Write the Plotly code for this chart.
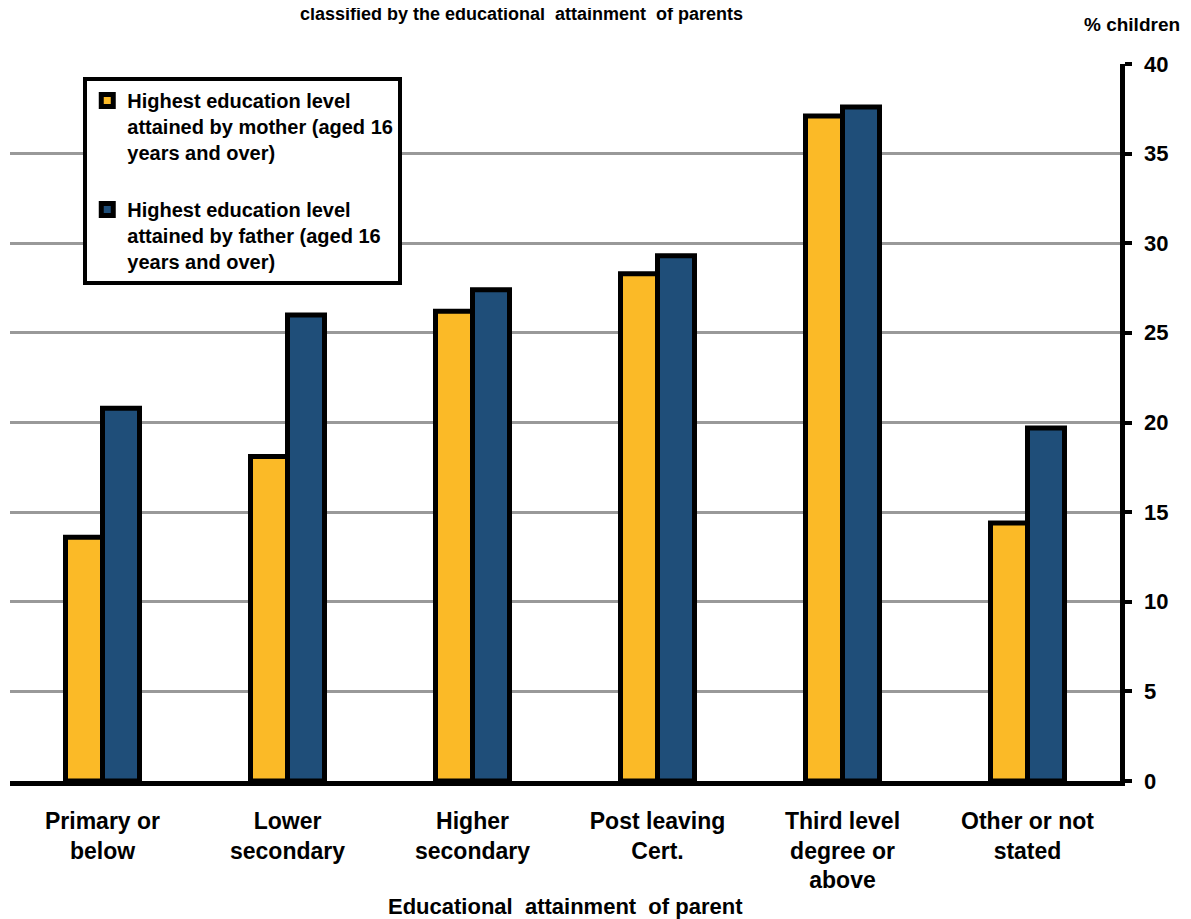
import plotly.graph_objects as go

categories = ["Primary or<br>below", "Lower<br>secondary", "Higher<br>secondary",
              "Post leaving<br>Cert.", "Third level<br>degree or<br>above", "Other or not<br>stated"]
mother = [13.6, 18.1, 26.2, 28.3, 37.1, 14.4]
father = [20.8, 26.0, 27.4, 29.3, 37.6, 19.7]
mother_name = "Highest education level<br>attained by mother (aged 16<br>years and over)"
father_name = "Highest education level<br>attained by father (aged 16<br>years and over)"
yticks = [0, 5, 10, 15, 20, 25, 30, 35, 40]

FONT = "Liberation Sans, Arial, sans-serif"

fig = go.Figure()
fig.add_trace(go.Bar(x=categories, y=mother, name=mother_name, legendgroup="m",
                     marker=dict(color="#FBBA27", line=dict(color="#000000", width=5))))
fig.add_trace(go.Bar(x=categories, y=father, name=father_name, legendgroup="f",
                     marker=dict(color="#1F4E79", line=dict(color="#000000", width=5))))

annotations = [
    dict(text="classified by the educational  attainment  of parents", xref="paper", yref="paper",
         x=(521 - 10) / 1110, y=(781 - 14) / 717, xanchor="center", yanchor="middle",
         showarrow=False, font=dict(size=18, family=FONT, weight="bold")),
    dict(text="% children", xref="paper", yref="paper",
         x=(1132 - 10) / 1110, y=(781 - 25) / 717, xanchor="center", yanchor="middle",
         showarrow=False, font=dict(size=19, family=FONT, weight="bold")),
    dict(text="Educational  attainment  of parent", xref="paper", yref="paper",
         x=0.5, y=(781 - 907) / 717, xanchor="center", yanchor="middle",
         showarrow=False, font=dict(size=22, family=FONT, weight="bold")),
]
# right-hand value labels, placed on the y scale
for t in yticks:
    annotations.append(dict(text=str(t), xref="paper", yref="y", x=(1142 - 10) / 1110, y=t,
                            xanchor="left", yanchor="middle", showarrow=False,
                            font=dict(size=22, family=FONT, weight="bold")))

# page body has an 8px margin, so the figure is made 8px smaller and offsets shifted
fig.update_layout(
    width=1183, height=911,
    margin=dict(l=2, r=71, t=56, b=138),
    plot_bgcolor="white", paper_bgcolor="white",
    barmode="group", bargap=0.6, bargroupgap=0,
    font=dict(family=FONT, color="#000000", weight="bold"),
    showlegend=True,
    legend=dict(x=0.066, y=0.982, xanchor="left", yanchor="top",
                bgcolor="white", bordercolor="#000000", borderwidth=4,
                font=dict(size=20, family=FONT, weight="bold"),
                traceorder="grouped", tracegroupgap=28, valign="top"),
    xaxis=dict(showline=True, linecolor="#000000", linewidth=5, ticks="",
               tickfont=dict(size=23, family=FONT, weight="bold"),
               ticklabelstandoff=15, showgrid=False),
    yaxis=dict(side="right", range=[0, 40], tickvals=yticks, showgrid=True,
               gridcolor="#999999", gridwidth=3, showline=True, linecolor="#000000",
               linewidth=5, ticks="outside", ticklen=7, tickwidth=4, tickcolor="#000000",
               showticklabels=False, zeroline=False),
    annotations=annotations,
)

fig.write_html("out.html")
